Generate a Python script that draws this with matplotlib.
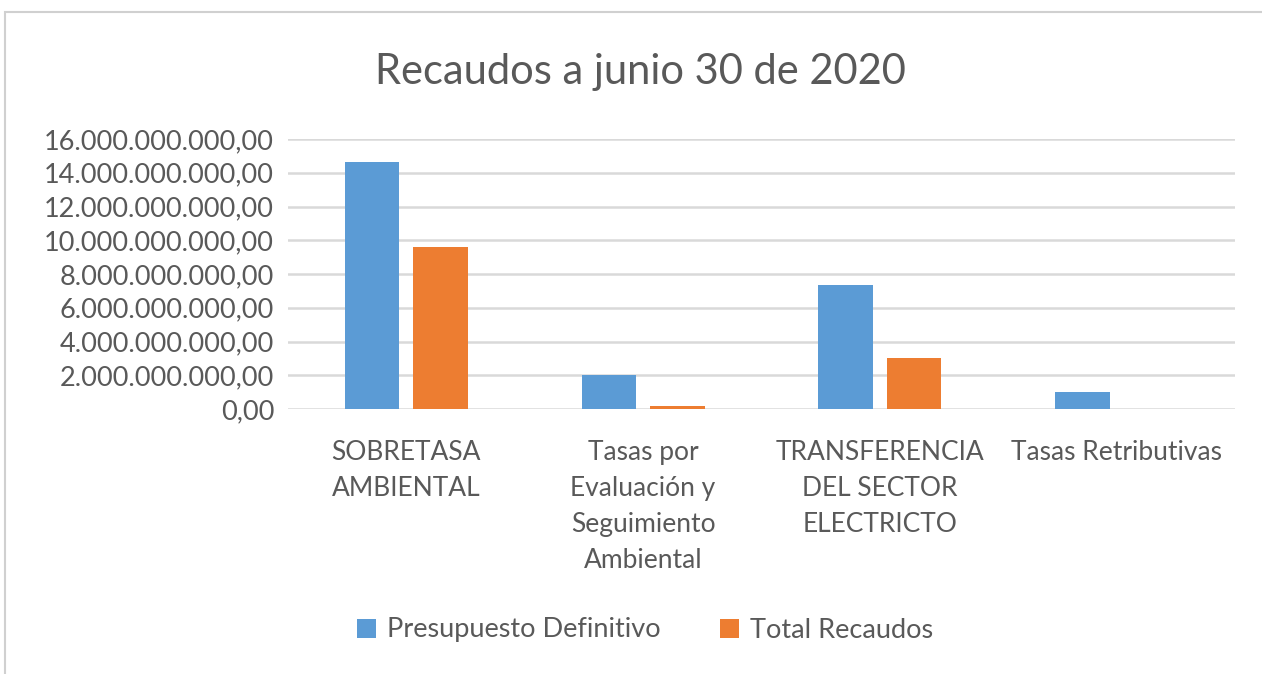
import matplotlib
matplotlib.use("Agg")
import matplotlib.pyplot as plt
import matplotlib.ticker as ticker
from matplotlib.patches import Rectangle
import numpy as np

plt.rcParams["font.family"] = ["Lato", "DejaVu Sans"]

categories = [
    "SOBRETASA\nAMBIENTAL",
    "Tasas por\nEvaluación y\nSeguimiento\nAmbiental",
    "TRANSFERENCIA\nDEL SECTOR\nELECTRICTO",
    "Tasas Retributivas",
]
presupuesto = [14.65e9, 2.02e9, 7.36e9, 1.02e9]
recaudos = [9.6e9, 0.16e9, 3.0e9, 0.0]
series_names = ["Presupuesto Definitivo", "Total Recaudos"]

BLUE = "#5B9BD5"
ORANGE = "#ED7D31"
TEXT = "#595959"
GRID = "#D9D9D9"


def es_fmt(v, _):
    s = f"{v:,.2f}"
    return s.replace(",", "X").replace(".", ",").replace("X", ".")


fig = plt.figure(figsize=(12.62, 6.74), dpi=100)
ax = fig.add_axes([288 / 1262, 1 - 409 / 674, (1235 - 288) / 1262, (409 - 139) / 674])

# chart frame
fig.patches.append(Rectangle((5 / 1262, -0.05), 1.2, 1 - 12 / 674 + 0.05,
                             transform=fig.transFigure, fill=False,
                             edgecolor="#D0D0D0", linewidth=1.5, clip_on=False))

x = np.arange(len(categories))
w = 0.23
off = 0.145
ax.bar(x - off, presupuesto, w, color=BLUE, label=series_names[0], zorder=3)
ax.bar(x + off, recaudos, w, color=ORANGE, label=series_names[1], zorder=3)

ax.set_xlim(-0.5, len(categories) - 0.5)
ax.set_ylim(0, 16e9)
ax.yaxis.set_major_locator(ticker.MultipleLocator(2e9))
ax.yaxis.set_major_formatter(ticker.FuncFormatter(es_fmt))
ax.grid(axis="y", color=GRID, linewidth=1.8, zorder=0)
ax.set_axisbelow(True)
for sp in ax.spines.values():
    sp.set_visible(False)

ax.set_xticks(x)
ax.set_xticklabels(categories, linespacing=1.55)
ax.tick_params(axis="x", length=0, pad=22, labelsize=19, labelcolor=TEXT)
ax.tick_params(axis="y", length=0, pad=10, labelsize=19.5, labelcolor=TEXT)

fig.text(640 / 1262, 1 - 72 / 674, "Recaudos a junio 30 de 2020",
         ha="center", va="center", fontsize=30, color=TEXT)

ax.legend(loc="center", bbox_to_anchor=(645 / 1262, 1 - 630 / 674),
          bbox_transform=fig.transFigure, ncol=2, frameon=False,
          fontsize=19.5, labelcolor=TEXT, handlelength=0.7, handleheight=0.7,
          handletextpad=0.4, columnspacing=2.2)

fig.savefig("out.png", dpi=100)
